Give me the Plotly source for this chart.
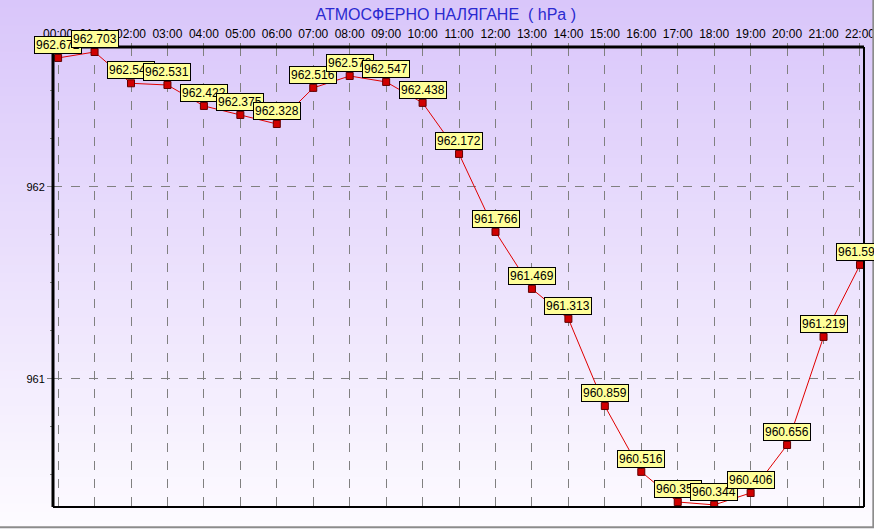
import plotly.graph_objs as go

hours = ['00:00', '01:00', '02:00', '03:00', '04:00', '05:00', '06:00', '07:00',
         '08:00', '09:00', '10:00', '11:00', '12:00', '13:00', '14:00', '15:00',
         '16:00', '17:00', '18:00', '19:00', '20:00', '21:00', '22:00']
pressure = [962.672, 962.703, 962.540, 962.531, 962.422, 962.375, 962.328, 962.516,
            962.578, 962.547, 962.438, 962.172, 961.766, 961.469, 961.313, 960.859,
            960.516, 960.359, 960.344, 960.406, 960.656, 961.219, 961.594]
y_ticks = [961, 962]

idx = list(range(len(hours)))

# background gradient (lavender at top -> white at bottom), drawn as thin bands
top_rgb = (217, 198, 250)
bot_rgb = (253, 251, 255)
n_bands = 60
y_top, y_bot = 1.105, -0.05
shapes = []
for i in range(n_bands):
    t = i / (n_bands - 1)
    c = tuple(round(top_rgb[k] + (bot_rgb[k] - top_rgb[k]) * t) for k in range(3))
    y1 = y_top - (y_top - y_bot) * i / n_bands
    y0 = y_top - (y_top - y_bot) * (i + 1) / n_bands
    shapes.append(dict(type='rect', xref='paper', yref='paper', x0=-0.08, x1=1.02,
                       y0=y0 - 0.002, y1=y1, fillcolor='rgb(%d,%d,%d)' % c,
                       line=dict(width=0), layer='below'))

# plot frame: thick top/left, thin right/bottom
shapes.append(dict(type='line', xref='paper', yref='paper', x0=0, x1=1, y0=1, y1=1,
                   line=dict(color='black', width=3)))
shapes.append(dict(type='line', xref='paper', yref='paper', x0=0, x1=0, y0=0, y1=1,
                   line=dict(color='black', width=3)))
shapes.append(dict(type='line', xref='paper', yref='paper', x0=1, x1=1, y0=0, y1=1,
                   line=dict(color='black', width=2)))
shapes.append(dict(type='line', xref='paper', yref='paper', x0=0, x1=1, y0=0, y1=0,
                   line=dict(color='black', width=2)))
# window border at bottom / right
shapes.append(dict(type='line', xref='paper', yref='paper', x0=-0.07, x1=1.02,
                   y0=-0.044, y1=-0.044, line=dict(color='#8c8c8c', width=2)))
shapes.append(dict(type='line', xref='paper', yref='paper', x0=1.0115, x1=1.0115,
                   y0=-0.044, y1=1.11, line=dict(color='#8c8c8c', width=2)))

trace = go.Scatter(x=idx, y=pressure, mode='lines+markers',
                   line=dict(color='#e00000', width=1),
                   marker=dict(symbol='square', size=7, color='#d00000',
                               line=dict(color='#600000', width=1)),
                   hoverinfo='skip', showlegend=False)

annotations = []
for x, v in zip(idx, pressure):
    annotations.append(dict(x=x, y=v, xref='x', yref='y', text='%.3f' % v,
                            showarrow=False, yanchor='bottom', yshift=4,
                            bgcolor='#ffff99', bordercolor='black', borderwidth=1,
                            borderpad=1,
                            font=dict(family='Liberation Sans', size=12, color='black')))

layout = go.Layout(
    width=874, height=529,
    margin=dict(l=53, r=10, t=47, b=22, autoexpand=False),
    paper_bgcolor='white',
    plot_bgcolor='rgba(0,0,0,0)',
    font=dict(family='Liberation Sans', size=11, color='black'),
    title=dict(text='АТМОСФЕРНО НАЛЯГАНЕ  ( hPa )', x=0.51, xanchor='center',
               y=0.972, yanchor='middle',
               font=dict(family='Liberation Sans', size=16, color='#2a2ad0')),
    xaxis=dict(range=[-0.14, 22.11], side='top', tickmode='array',
               tickvals=idx, ticktext=hours, showgrid=True,
               gridcolor='#808080', griddash='dash', gridwidth=1,
               zeroline=False, showline=False, ticks='outside', ticklen=3,
               tickcolor='#808080', tickfont=dict(size=12),
               ticklabeloverflow='allow', automargin=False),
    yaxis=dict(range=[960.333, 962.729], tickmode='array', tickvals=y_ticks,
               ticktext=[str(t) for t in y_ticks], showgrid=True,
               gridcolor='#808080', griddash='dash', gridwidth=1,
               zeroline=False, showline=False, ticks='outside', ticklen=5,
               tickcolor='#808080', tickfont=dict(size=11), automargin=False,
               minor=dict(dtick=0.25, ticks='outside', ticklen=2,
                          tickcolor='#808080', showgrid=False)),
    shapes=shapes,
    annotations=annotations,
)

fig = go.Figure(data=[trace], layout=layout)
fig.write_html('out.html', config={'displayModeBar': False},
               post_script="document.body.style.margin='0';document.body.style.overflow='hidden';")
